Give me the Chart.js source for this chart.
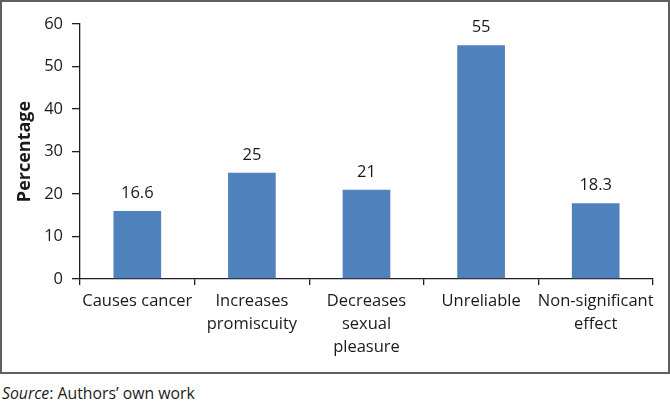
<!DOCTYPE html>
<html>
<head>
<meta charset="utf-8">
<script src="https://cdn.jsdelivr.net/npm/chart.js@4"></script>
<style>
  html, body { margin:0; padding:0; background:#fff; }
  #wrap { position:relative; width:670px; height:408px; }
  #c { position:absolute; left:0; top:0; }
  #frame { position:absolute; left:0; top:0; width:670px; height:374px; box-sizing:border-box; border:2px solid #5f5f5f; pointer-events:none; }
  #src { position:absolute; left:2px; top:383px; font:15.8px "Open Sans", sans-serif; line-height:20px; color:#1a1a1a; }
</style>
</head>
<body>
<div id="wrap">
  <canvas id="c" width="670" height="374"></canvas>
  <div id="frame"></div>
  <div id="src"><i>Source</i>: Authors’ own work</div>
</div>
<script>
const categories = [
  ['Causes cancer'],
  ['Increases', 'promiscuity'],
  ['Decreases', 'sexual', 'pleasure'],
  ['Unreliable'],
  ['Non-significant', 'effect']
];
const barValues = [16, 25, 21, 55, 17.8];
const valueLabels = ['16.6', '25', '21', '55', '18.3'];
const yTicks = [0, 10, 20, 30, 40, 50, 60];

const FONT = '"Open Sans", sans-serif';
const TEXT = '#1a1a1a';
const AXIS = '#1f1f1f';

const labelPlugin = {
  id: 'valueLabels',
  afterDatasetsDraw(chart) {
    const ctx = chart.ctx;
    const meta = chart.getDatasetMeta(0);
    ctx.save();
    ctx.font = '16.5px ' + FONT;
    ctx.fillStyle = TEXT;
    ctx.textAlign = 'center';
    ctx.textBaseline = 'alphabetic';
    meta.data.forEach((bar, i) => {
      ctx.fillText(valueLabels[i], bar.x, bar.y - 13);
    });
    ctx.restore();
  }
};

new Chart(document.getElementById('c'), {
  type: 'bar',
  data: {
    labels: categories,
    datasets: [{
      data: barValues,
      backgroundColor: '#4f81bd',
      barPercentage: 0.416,
      categoryPercentage: 1.0
    }]
  },
  options: {
    responsive: false,
    animation: false,
    devicePixelRatio: 1,
    layout: { padding: { top: 24, right: 17, left: 0, bottom: 0 } },
    plugins: { legend: { display: false }, tooltip: { enabled: false } },
    scales: {
      x: {
        offset: true,
        grid: { display: true, drawOnChartArea: false, drawTicks: true, tickLength: 6, color: AXIS, lineWidth: 1.3, offset: true },
        border: { color: AXIS, width: 1.3 },
        ticks: { font: { family: FONT, size: 16.5, lineHeight: 1.4 }, color: TEXT, padding: 5, maxRotation: 0, minRotation: 0, autoSkip: false },
        afterFit(scale) { scale.height = 95; }
      },
      y: {
        min: 0, max: 60,
        afterBuildTicks(scale) { scale.ticks = yTicks.map(v => ({ value: v })); },
        grid: { display: true, drawOnChartArea: false, drawTicks: true, tickLength: 8, color: AXIS, lineWidth: 1.3 },
        border: { color: AXIS, width: 1.3 },
        ticks: { font: { family: FONT, size: 16.5 }, color: TEXT, padding: 9 },
        title: { display: true, text: 'Percentage', color: TEXT, font: { family: FONT, size: 18, weight: 'bold' }, padding: { top: 14, bottom: 0 } },
        afterFit(scale) { scale.width = 80; }
      }
    }
  },
  plugins: [labelPlugin]
});
</script>
</body>
</html>
